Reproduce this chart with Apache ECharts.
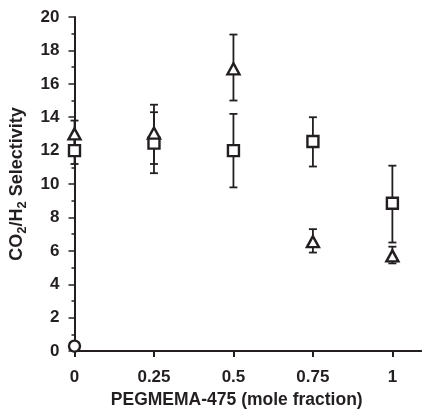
<!DOCTYPE html>
<html>
<head>
<meta charset="utf-8">
<script src="https://cdn.jsdelivr.net/npm/echarts@6/dist/echarts.min.js"></script>
<style>
html,body{margin:0;padding:0;background:#fff;}
#c{width:423px;height:414px;}
</style>
</head>
<body>
<div id="c"></div>
<script>
// x positions (mole fraction)
const xValues = [0, 0.25, 0.5, 0.75, 1];
const xTickLabels = [0, 0.25, 0.5, 0.75, 1];
const yTickLabels = [0, 2, 4, 6, 8, 10, 12, 14, 16, 18, 20];

// squares
const squareVals = [12.0, 12.45, 12.0, 12.55, 8.85];
const squareLow  = [11.2, 10.65, 9.8, 11.05, 6.5];
const squareHigh = [12.8, 14.3, 14.2, 14.0, 11.1];

// triangles
const triVals = [13.0, 13.05, 16.9, 6.55, 5.7];
const triLow  = [12.2, 11.2, 15.0, 5.9, 5.25];
const triHigh = [13.8, 14.75, 18.95, 7.3, 6.25];

// circle
const circleX = [0];
const circleVals = [0.3];

const INK = '#231f20';

function errData(lo, hi) {
  return xValues.map((x, i) => [x, lo[i], hi[i]]);
}
function errSeries(lo, hi) {
  return {
    type: 'custom',
    data: errData(lo, hi),
    z: 1,
    renderItem: function (params, api) {
      const x = api.value(0);
      const p1 = api.coord([x, api.value(1)]);
      const p2 = api.coord([x, api.value(2)]);
      const w = 4;
      const st = { stroke: INK, lineWidth: 1.8 };
      return {
        type: 'group',
        children: [
          { type: 'line', shape: { x1: p1[0], y1: p1[1], x2: p2[0], y2: p2[1] }, style: st },
          { type: 'line', shape: { x1: p1[0] - w, y1: p1[1], x2: p1[0] + w, y2: p1[1] }, style: st },
          { type: 'line', shape: { x1: p2[0] - w, y1: p2[1], x2: p2[0] + w, y2: p2[1] }, style: st }
        ]
      };
    }
  };
}

const chart = echarts.init(document.getElementById('c'), null, { renderer: 'canvas' });
const font = '"Liberation Sans", Arial, sans-serif';

chart.setOption({
  animation: false,
  backgroundColor: '#fff',
  grid: { left: 74, top: 17, right: 2, bottom: 62, containLabel: false },
  xAxis: [{
    type: 'value', min: 0, max: 1.09, interval: 0.25,
    splitLine: { show: false },
    axisLine: { show: true, onZero: false, lineStyle: { color: INK, width: 2 } },
    axisTick: { show: true, length: 6, customValues: xTickLabels, lineStyle: { color: INK, width: 2 } },
    axisLabel: { customValues: xTickLabels, margin: 18, color: INK, fontFamily: font, fontWeight: 'bold', fontSize: 17,
      formatter: v => String(v) },
    name: 'PEGMEMA-475 (mole fraction)',
    nameLocation: 'middle', nameGap: 36,
    nameTextStyle: { color: INK, fontFamily: font, fontWeight: 'bold', fontSize: 17.5, padding: [0, 22, 0, 0] }
  }, {
    type: 'value', min: 0, max: 1.09, position: 'top',
    splitLine: { show: false },
    axisLine: { show: true, lineStyle: { color: INK, width: 2 } },
    axisTick: { show: false }, axisLabel: { show: false }
  }],
  yAxis: {
    type: 'value', min: 0, max: 20, interval: 2,
    splitLine: { show: false },
    axisLine: { show: true, onZero: false, lineStyle: { color: INK, width: 2 } },
    axisTick: { show: true, length: 6, lineStyle: { color: INK, width: 1.5 } },
    minorTick: { show: true, splitNumber: 2, length: 3, lineStyle: { color: INK, width: 1.5 } },
    axisLabel: { customValues: yTickLabels, margin: 15, color: INK, fontFamily: font, fontWeight: 'bold', fontSize: 17 },
    name: '{b|CO}{s|2}{b|/H}{s|2}{b| Selectivity}',
    nameLocation: 'middle', nameGap: 46,
    nameTextStyle: {
      color: INK, fontFamily: font, fontWeight: 'bold', fontSize: 18,
      rich: {
        b: { fontFamily: font, fontWeight: 'bold', fontSize: 18, color: INK },
        s: { fontFamily: font, fontWeight: 'bold', fontSize: 13, color: INK, padding: [10, 0, 0, 0] }
      }
    }
  },
  series: [
    errSeries(squareLow, squareHigh),
    errSeries(triLow, triHigh),
    {
      type: 'scatter', z: 3,
      data: xValues.map((x, i) => [x, squareVals[i]]),
      symbol: 'rect', symbolSize: 11,
      itemStyle: { color: '#fff', borderColor: INK, borderWidth: 2.4, opacity: 1 }
    },
    {
      type: 'scatter', z: 4,
      data: xValues.map((x, i) => [x, triVals[i]]),
      symbol: 'triangle', symbolSize: [12, 11],
      itemStyle: { color: '#fff', borderColor: INK, borderWidth: 2.4, opacity: 1 }
    },
    {
      type: 'scatter', z: 4,
      data: circleX.map((x, i) => [x, circleVals[i]]),
      symbol: 'circle', symbolSize: 11,
      itemStyle: { color: '#fff', borderColor: INK, borderWidth: 2.4, opacity: 1 }
    }
  ]
});
</script>
</body>
</html>
